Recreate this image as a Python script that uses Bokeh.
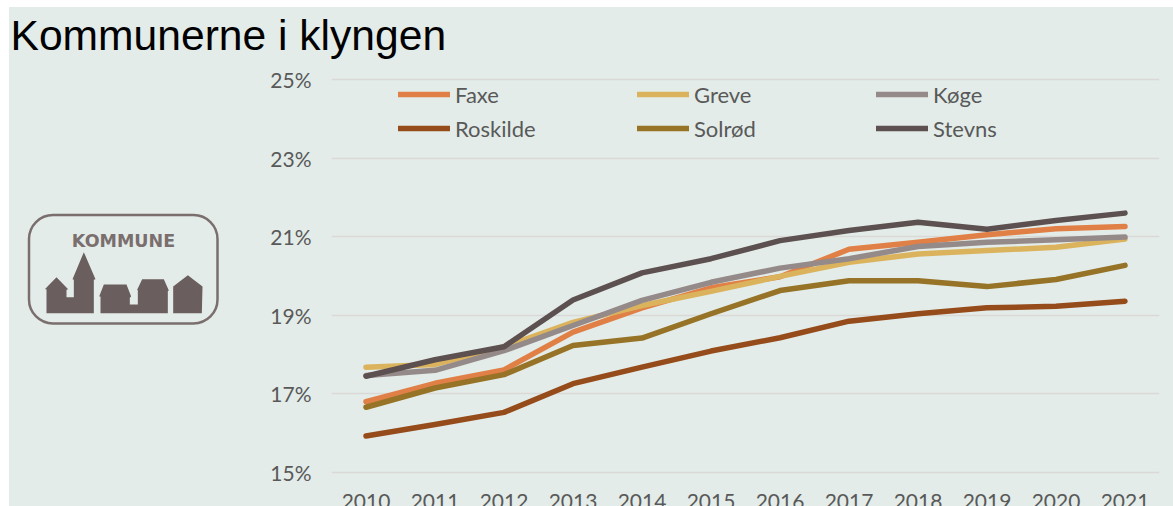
from bokeh.plotting import figure
from bokeh.embed import file_html
from bokeh.resources import INLINE
from bokeh.layouts import column, row
from bokeh.core.properties import value
from bokeh.models import (FactorRange, Range1d, FixedTicker, PrintfTickFormatter, Legend, LegendItem,
                          Label, BoxAnnotation)

years = ["2010","2011","2012","2013","2014","2015","2016","2017","2018","2019","2020","2021"]
faxe     = [16.80,17.27,17.61,18.57,19.19,19.70,19.98,20.68,20.86,21.05,21.20,21.26]
greve    = [17.68,17.75,18.20,18.82,19.25,19.61,19.99,20.35,20.56,20.65,20.73,20.94]
koege    = [17.47,17.60,18.10,18.74,19.38,19.84,20.20,20.44,20.75,20.86,20.92,20.99]
roskilde = [15.93,16.22,16.53,17.26,17.68,18.09,18.43,18.85,19.04,19.19,19.23,19.36]
solroed  = [16.66,17.15,17.49,18.23,18.42,19.04,19.63,19.88,19.88,19.73,19.91,20.27]
stevns   = [17.45,17.87,18.20,19.39,20.08,20.44,20.90,21.16,21.37,21.19,21.41,21.60]
names = ["Faxe","Greve","Køge","Roskilde","Solrød","Stevns"]
series = [faxe,greve,koege,roskilde,solroed,stevns]
colors = ["#E08046","#DBB35D","#958A8A","#964B1A","#967326","#5D5050"]
y_ticks = [15,17,19,21,23,25]

BG = "#E3ECE8"; TXT = "#595959"; LOGO = "#6B5E5E"
LEFT, TOP = 9, 7          # page position of the coloured area
PAGE_W, PAGE_H = 1173, 506
TITLE_H = 55
LOGO_W = 250
FRAME_LEFT = 331
PX_PER_UNIT = 39.3
BODY_TOP = TOP + TITLE_H

# ---- title strip
t = figure(width=PAGE_W-LEFT, height=TITLE_H, output_backend="svg", toolbar_location=None,
           x_range=Range1d(0, 1), y_range=Range1d(0, 1), x_axis_location=None, y_axis_location=None,
           background_fill_color=BG, border_fill_color=BG, outline_line_color=None,
           min_border_left=0, min_border_right=0, min_border_top=0, min_border_bottom=0)
t.grid.visible = False
t.add_layout(Label(x=10-LEFT, y=BODY_TOP-50+15.5, x_units="screen", y_units="screen", text="Kommunerne i klyngen",
                   text_font="Liberation Sans", text_font_size="42.6px", text_color="black",
                   text_baseline="alphabetic", text_align="left"))

# ---- logo panel, in page pixels
g = figure(width=LOGO_W, height=PAGE_H-BODY_TOP, output_backend="svg", toolbar_location=None,
           x_range=Range1d(LEFT, LEFT+LOGO_W), y_range=Range1d(PAGE_H, BODY_TOP),
           x_axis_location=None, y_axis_location=None,
           background_fill_color=BG, border_fill_color=BG, outline_line_color=None,
           min_border_left=0, min_border_right=0, min_border_top=0, min_border_bottom=0)
g.grid.visible = False
g.add_layout(BoxAnnotation(left=28.5, right=217, top=214.5, bottom=323,
                           fill_alpha=0, line_color="#7A6E6E", line_alpha=1, line_width=2.5, border_radius=24))
g.text(x=[123], y=[240], text=["KOMMUNE"], text_font=value("DejaVu Sans"), text_font_style="bold",
       text_font_size="17.5px", text_color="#7A6E6E", text_align="center", text_baseline="alphabetic")
houses = [
    [(138,368),(138,296),(133,296),(168,260),(203,296),(198,298),(198,320),(220,320),(220,268),(216,266),
     (250,185),(285,266),(280,268),(280,368)],
    [(300,368),(300,318),(296,318),(310,282),(378,282),(392,318),(388,322),(388,342),(412,342),(412,300),
     (410,298),(425,266),(490,266),(505,300),(502,302),(502,368)],
    [(518,368),(518,288),(562,254),(606,288),(604,368)],
]
g.patches([[a/3 for a, b in h] for h in houses], [[b/3+190 for a, b in h] for h in houses],
          fill_color=LOGO, line_color=None)

# ---- chart
p = figure(width=PAGE_W-LEFT-LOGO_W, height=PAGE_H-BODY_TOP, output_backend="svg", toolbar_location=None,
           x_range=FactorRange(factors=years),
           y_range=Range1d(15-(PAGE_H-472)/PX_PER_UNIT, 25+(79-BODY_TOP)/PX_PER_UNIT),
           background_fill_color=BG, border_fill_color=BG,
           min_border_left=FRAME_LEFT-LEFT-LOGO_W, min_border_right=14, min_border_top=0, min_border_bottom=0)
p.outline_line_color = None
p.xgrid.visible = False
p.ygrid.grid_line_color = "#DAD9D8"
p.ygrid.grid_line_width = 1.5
p.ygrid.ticker = FixedTicker(ticks=y_ticks)

p.yaxis.ticker = FixedTicker(ticks=y_ticks)
p.yaxis.formatter = PrintfTickFormatter(format="%d%%")
p.xaxis.fixed_location = 15
for ax in (p.xaxis[0], p.yaxis[0]):
    ax.axis_line_color = None
    ax.major_tick_line_color = None
    ax.minor_tick_line_color = None
    ax.major_tick_out = 0
    ax.major_tick_in = 0
    ax.minor_tick_out = 0
    ax.major_label_text_font = "Lato"
    ax.major_label_text_font_size = "21px"
    ax.major_label_text_color = TXT
p.yaxis.major_label_standoff = 20
p.xaxis.major_label_standoff = 21

items = []
for n, s, c in zip(names, series, colors):
    r = p.line(years, s, line_color=c, line_width=5.5, line_cap="round", line_join="round")
    items.append(LegendItem(label=n, renderers=[r]))

legend = Legend(items=items, nrows=2, ncols=3, location=(398-FRAME_LEFT, PAGE_H-145),
                orientation="horizontal",
                glyph_width=52, glyph_height=34, label_width=182, label_height=34,
                label_standoff=5, spacing=0, padding=0, margin=0,
                background_fill_alpha=0, border_line_color=None,
                label_text_font="Lato", label_text_font_size="22px", label_text_color=TXT)
p.add_layout(legend, "center")

inner = row(g, p, spacing=0, styles={"background-color": BG})
page = column(t, inner, spacing=0, margin=(TOP, 0, 0, LEFT), styles={"background-color": BG})
open("out.html", "w").write(file_html(page, INLINE))
